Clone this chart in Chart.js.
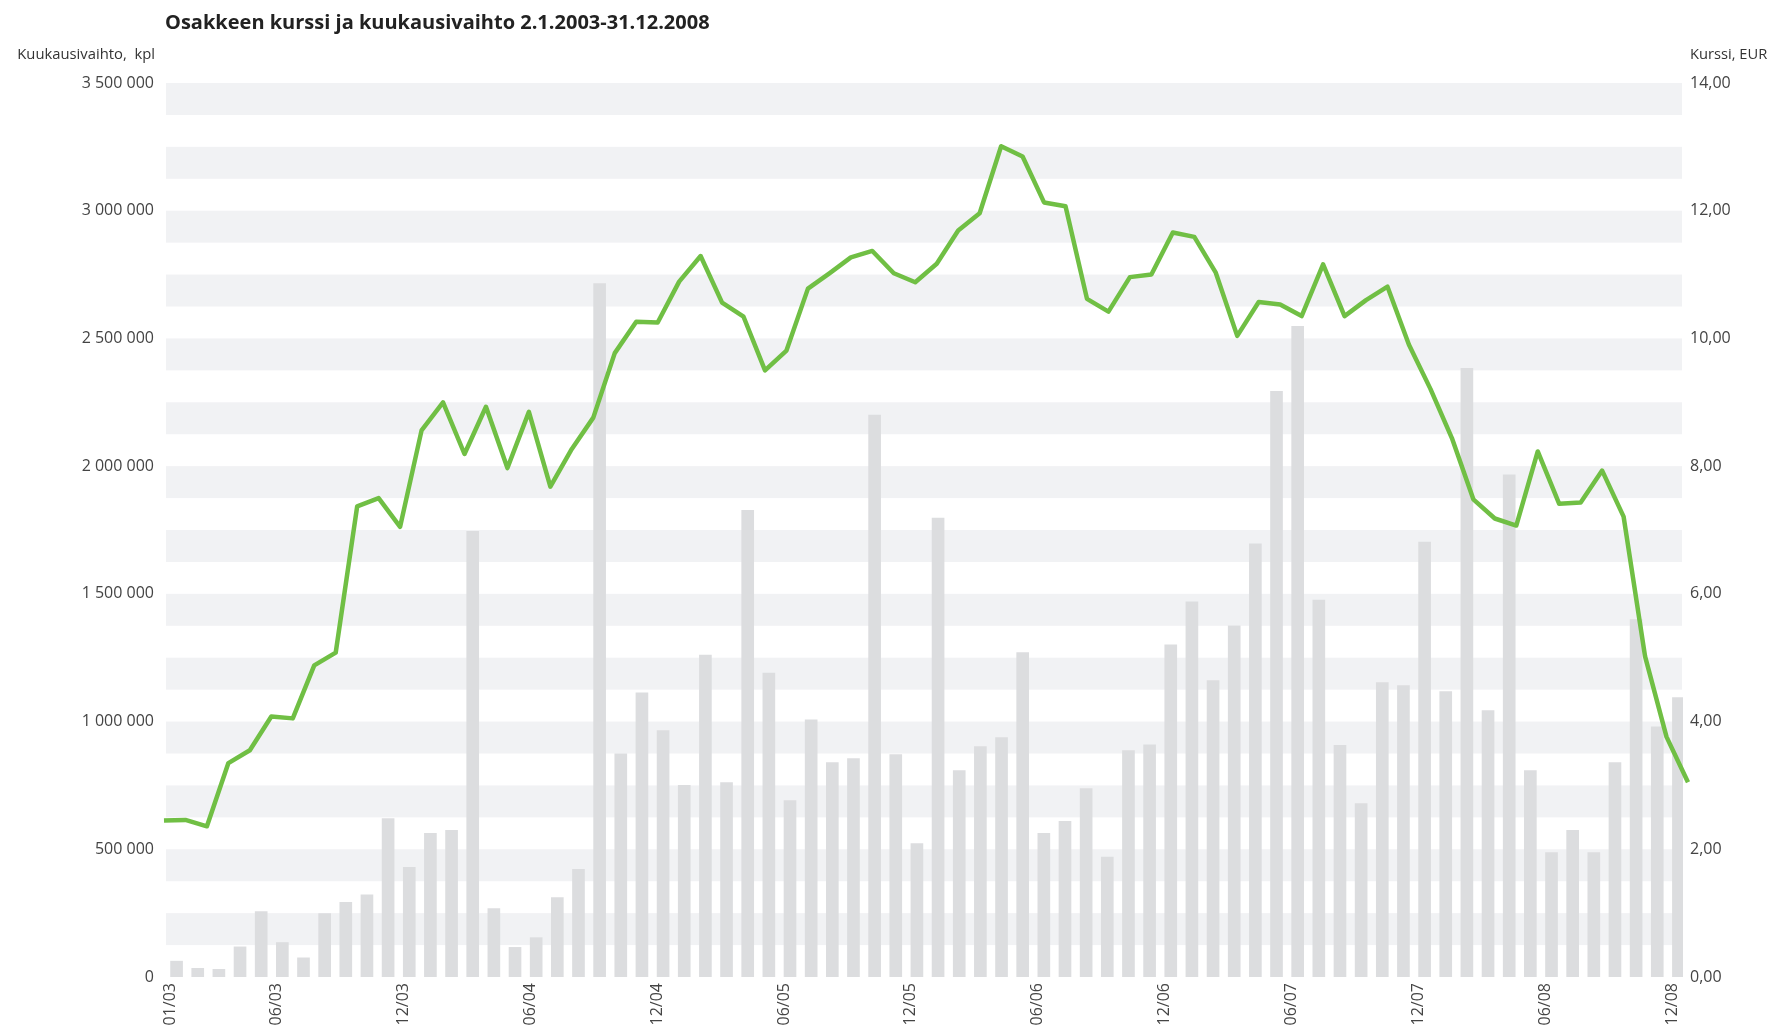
<!DOCTYPE html>
<html lang="fi">
<head>
<meta charset="utf-8">
<title>Osakkeen kurssi ja kuukausivaihto</title>
<script src="https://cdn.jsdelivr.net/npm/chart.js@4.4.1/dist/chart.umd.min.js"></script>
<style>
  body { margin: 0; background: #fff; }
  #wrap { position: relative; width: 1771px; height: 1033px; font-family: "Open Sans", sans-serif; color: #333; }
  #chart { position: absolute; left: 0; top: 0; }
  .txt { position: absolute; white-space: pre; }
  #title { left: 165px; top: 8px; font-size: 20px; font-weight: bold; color: #222; }
  #leftTitle { left: 0; width: 155px; text-align: right; top: 43px; font-size: 14.8px; }
  #rightTitle { left: 1690px; top: 43px; font-size: 14.7px; }
</style>
</head>
<body>
<div id="wrap">
  <canvas id="chart" width="1771" height="1033"></canvas>
  <div class="txt" id="title">Osakkeen kurssi ja kuukausivaihto 2.1.2003-31.12.2008</div>
  <div class="txt" id="leftTitle">Kuukausivaihto,  kpl</div>
  <div class="txt" id="rightTitle">Kurssi, EUR</div>
</div>
<script>
// Kuukaudet 01/03 - 12/08
const months = [
  '01/03','02/03','03/03','04/03','05/03','06/03','07/03','08/03','09/03','10/03','11/03','12/03',
  '01/04','02/04','03/04','04/04','05/04','06/04','07/04','08/04','09/04','10/04','11/04','12/04',
  '01/05','02/05','03/05','04/05','05/05','06/05','07/05','08/05','09/05','10/05','11/05','12/05',
  '01/06','02/06','03/06','04/06','05/06','06/06','07/06','08/06','09/06','10/06','11/06','12/06',
  '01/07','02/07','03/07','04/07','05/07','06/07','07/07','08/07','09/07','10/07','11/07','12/07',
  '01/08','02/08','03/08','04/08','05/08','06/08','07/08','08/08','09/08','10/08','11/08','12/08'
];

// akselilla näkyvät kuukaudet
const tickLabels = ['01/03','06/03','12/03','06/04','12/04','06/05','12/05','06/06','12/06','06/07','12/07','06/08','12/08'];

// kuukausivaihto, kpl
const volume = [
  62000, 34000, 30000, 118000, 256000, 135000, 75000, 248000, 292000, 322000, 620000, 429000,
  562000, 574000, 1745000, 268000, 116000, 154000, 311000, 422000, 2715000, 874000, 1113000, 965000,
  750000, 1260000, 761000, 1827000, 1190000, 691000, 1007000, 839000, 855000, 2200000, 871000, 522000,
  1797000, 808000, 902000, 937000, 1270000, 562000, 609000, 738000, 469000, 886000, 909000, 1300000,
  1469000, 1160000, 1375000, 1696000, 2293000, 2547000, 1476000, 907000, 679000, 1153000, 1141000, 1703000,
  1117000, 2383000, 1043000, 1966000, 808000, 487000, 574000, 487000, 839000, 1399000, 979000, 1094000
];

// kurssi, EUR
const price = [
  2.45, 2.46, 2.36, 3.35, 3.55, 4.08, 4.05, 4.88, 5.08, 7.37, 7.50, 7.05,
  8.56, 9.00, 8.19, 8.93, 7.97, 8.85, 7.68, 8.27, 8.76, 9.77, 10.26, 10.25,
  10.89, 11.29, 10.56, 10.34, 9.50, 9.81, 10.78, 11.02, 11.27, 11.37, 11.02, 10.88,
  11.17, 11.69, 11.96, 13.01, 12.85, 12.13, 12.07, 10.62, 10.42, 10.96, 11.00, 11.66,
  11.59, 11.03, 10.04, 10.57, 10.53, 10.35, 11.16, 10.35, 10.60, 10.81, 9.90, 9.21,
  8.44, 7.48, 7.18, 7.07, 8.23, 7.41, 7.43, 7.93, 7.21, 5.02, 3.76, 3.05
];

// harmaat raidat taustalle (125 000 kpl välein)
const bandPlugin = {
  id: 'bands',
  beforeDatasetsDraw(chart) {
    const { ctx, chartArea, scales } = chart;
    const y = scales.y;
    const left = chartArea.left + 6;
    ctx.save();
    ctx.fillStyle = '#f1f2f4';
    for (let v = y.max; v > y.min; v -= 250000) {
      const top = y.getPixelForValue(v);
      const bottom = y.getPixelForValue(v - 125000);
      ctx.fillRect(left, top, chartArea.right - 1 - left, bottom - top);
    }
    ctx.restore();
  }
};

const tickFont = { family: 'Open Sans', size: 16 };

const ctx = document.getElementById('chart').getContext('2d');
const chart = new Chart(ctx, {
  type: 'bar',
  data: {
    labels: months,
    datasets: [
      {
        type: 'line',
        label: 'Kurssi',
        data: price.map((p, i) => ({ x: i, y: p })),
        xAxisID: 'x2',
        yAxisID: 'y1',
        borderColor: '#70bf44',
        borderWidth: 4.5,
        borderJoinStyle: 'round',
        pointRadius: 0,
        tension: 0,
        clip: false,
        order: 0
      },
      {
        label: 'Kuukausivaihto',
        data: volume,
        xAxisID: 'x',
        yAxisID: 'y',
        backgroundColor: '#dcdddf',
        barThickness: 12,
        order: 1
      }
    ]
  },
  options: {
    responsive: false,
    animation: false,
    devicePixelRatio: 1,
    layout: { padding: { top: 83, left: 0, right: 0, bottom: 0 } },
    plugins: {
      legend: { display: false },
      tooltip: { enabled: false }
    },
    scales: {
      x: {
        type: 'category',
        offset: true,
        grid: { display: false, drawTicks: false },
        border: { display: false },
        ticks: {
          autoSkip: false,
          minRotation: 90,
          maxRotation: 90,
          padding: 6,
          color: '#444',
          font: { family: 'Open Sans', size: 16 },
          callback(value, index) {
            const lab = months[index];
            return tickLabels.includes(lab) ? lab : '';
          }
        },
        afterFit(scale) { scale.height = 56; }
      },
      x2: {
        type: 'linear',
        min: -0.186,
        max: 70.767,
        offset: false,
        grid: { offset: false },
        display: false
      },
      y: {
        position: 'left',
        min: 0,
        max: 3500000,
        grid: { display: false, drawTicks: false },
        border: { display: false },
        ticks: {
          stepSize: 500000,
          padding: 6,
          color: '#444',
          font: tickFont,
          callback(v) { return String(v).replace(/\B(?=(\d{3})+(?!\d))/g, ' '); }
        },
        afterFit(scale) { scale.width = 160; }
      },
      y1: {
        position: 'right',
        min: 0,
        max: 14,
        grid: { display: false, drawTicks: false },
        border: { display: false },
        ticks: {
          stepSize: 2,
          padding: 7,
          color: '#444',
          font: tickFont,
          callback(v) { return v.toFixed(2).replace('.', ','); }
        },
        afterFit(scale) { scale.width = 88; }
      }
    }
  },
  plugins: [bandPlugin]
});
</script>
</body>
</html>
